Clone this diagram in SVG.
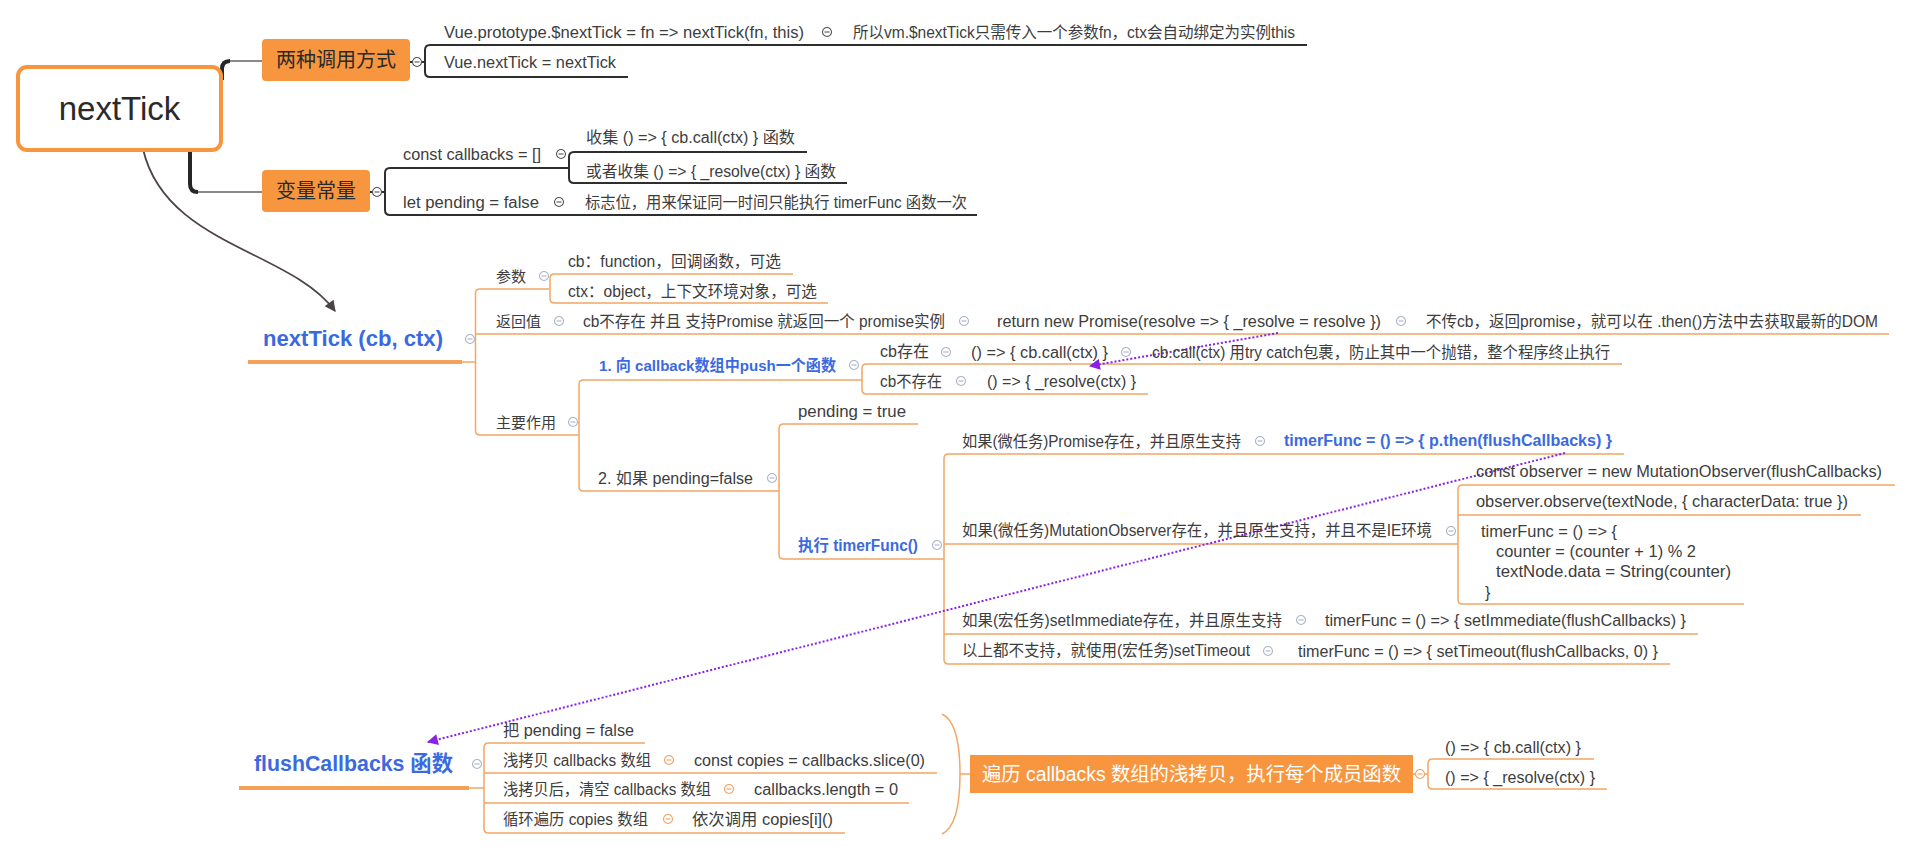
<svg xmlns="http://www.w3.org/2000/svg" width="1912" height="851" viewBox="0 0 1912 851">
<style>
.t{font-family:"Liberation Sans","Noto Sans CJK SC",sans-serif;font-size:16px;fill:#3d3d3d}
.b{font-weight:bold;fill:#3b6ae0}
.w{fill:#ffffff}
.ln{fill:none;stroke:#2e2e2e;stroke-width:2}
.lo{fill:none;stroke:#F2A766;stroke-width:1.5}
.lt{fill:none;stroke:#F4A25A;stroke-width:4}
.box{fill:#F7963F}
.cd{fill:#fff;stroke:#555;stroke-width:1.1}
.cb{fill:#fff;stroke:#AAB4C8;stroke-width:1.1}
.co{fill:#fff;stroke:#F0A060;stroke-width:1.1}
.md{stroke:#555;stroke-width:1.1}
.mb{stroke:#AAB4C8;stroke-width:1.1}
.mo{stroke:#F0A060;stroke-width:1.1}
.pu{fill:none;stroke:#8A22E6;stroke-width:2;stroke-dasharray:2 2}
</style>
<defs>
<marker id="apu" viewBox="0 0 10 10" refX="9" refY="5" markerWidth="13" markerHeight="11" orient="auto" markerUnits="userSpaceOnUse">
<path d="M0,0 L10,5 L0,10 z" fill="#8A22E6"/>
</marker>
<marker id="ad" viewBox="0 0 10 10" refX="9" refY="5" markerWidth="13" markerHeight="11" orient="auto" markerUnits="userSpaceOnUse">
<path d="M0,0 L10,5 L0,10 z" fill="#4d4346"/>
</marker>
<g id="cdm"><circle class="cd" r="4.5"/><path class="md" d="M-2.5,0 H2.5"/></g>
<g id="cbm"><circle class="cb" r="4.5"/><path class="mb" d="M-2.5,0 H2.5"/></g>
<g id="com"><circle class="co" r="4.5"/><path class="mo" d="M-2.5,0 H2.5"/></g>
</defs>
<rect width="1912" height="851" fill="#ffffff"/>

<g id="connectors">
<path d="M222,80 V69 Q222,61 230,61" fill="none" stroke="#262626" stroke-width="4"/>
<path d="M230,61 H262" fill="none" stroke="#8a8a8a" stroke-width="2"/>
<path d="M190,140 V184 Q190,192 198,192" fill="none" stroke="#262626" stroke-width="4"/>
<path d="M198,192 H262" fill="none" stroke="#8a8a8a" stroke-width="2"/>
<path class="ln" d="M410,62 H425 M1307,45 H430 Q425,45 425,50 V72 Q425,77 430,77 H628"/>
<path class="ln" d="M370,192 H385 M569,168 H390 Q385,168 385,173 V210 Q385,215 390,215 H977"/>
<path class="ln" d="M807,152 H574 Q569,152 569,157 V178 Q569,183 574,183 H847"/>
<path class="lt" d="M248,362 H462"/>
<path class="lo" d="M462,362 H475.5"/>
<path class="lo" d="M549,289 H480 Q475.5,289 475.5,293.5 V430.5 Q475.5,435 480,435 H579 M475.5,334 H1889"/>
<path class="lo" d="M793,274 H554.5 Q550,274 550,278.5 V298.5 Q550,303 554.5,303 H828"/>
<path class="lo" d="M862,380 H583.5 Q579,380 579,384.5 V486.5 Q579,491 583.5,491 H779"/>
<path class="lo" d="M1622,364 H866.5 Q862,364 862,368.5 V389.5 Q862,394 866.5,394 H1148"/>
<path class="lo" d="M918,424 H783.5 Q779,424 779,428.5 V554.5 Q779,559 783.5,559 H944"/>
<path class="lo" d="M1624,454 H948.5 Q944,454 944,458.5 V659.5 Q944,664 948.5,664 H1670 M944,544 H1458 M944,634 H1698"/>
<path class="lo" d="M1895,485 H1462.5 Q1458,485 1458,489.5 V599.5 Q1458,604 1462.5,604 H1744 M1458,515 H1861"/>
<path class="lt" d="M239,788 H469"/>
<path class="lo" d="M469,788 H484"/>
<path class="lo" d="M645,743 H488.5 Q484,743 484,747.5 V828.5 Q484,833 488.5,833 H845 M484,773 H937 M484,803 H909"/>
<path class="lo" d="M942,714 C959,722 960,758 960,774 C960,790 959,826 942,834 M960,774 H970"/>
<path class="lo" d="M1413,774 H1428 M1594,759 H1432.5 Q1428,759 1428,763.5 V784.5 Q1428,789 1432.5,789 H1607"/>
<path d="M143,149 C165,245 290,250 335,311" fill="none" stroke="#4d4346" stroke-width="1.8" marker-end="url(#ad)"/>
<path class="pu" d="M1278,333 L1090,366" marker-end="url(#apu)"/>
<path class="pu" d="M1565,453 L428,742" marker-end="url(#apu)"/>
</g>

<g id="node-root">
<rect x="18" y="67" width="203" height="83" rx="9" fill="#ffffff" stroke="#F7963F" stroke-width="4"/>
<text x="119.5" y="120" text-anchor="middle" class="t" style="font-size:33px;fill:#2a2a2a">nextTick</text>
</g>

<g id="node-call">
<rect class="box" x="262" y="39" width="148" height="42" rx="4"/>
<text x="336" y="67" text-anchor="middle" class="t" style="font-size:20px;fill:#2a2a2a">两种调用方式</text>
<use href="#cdm" x="417" y="62"/>
</g>
<g id="node-proto"><text class="t" x="444" y="38" textLength="360" lengthAdjust="spacingAndGlyphs">Vue.prototype.$nextTick = fn =&gt; nextTick(fn, this)</text><use href="#cdm" x="827" y="32"/></g>
<g id="node-proto-note"><text class="t" x="853" y="38" textLength="442" lengthAdjust="spacingAndGlyphs">所以vm.$nextTick只需传入一个参数fn，ctx会自动绑定为实例this</text></g>
<g id="node-vuenext"><text class="t" x="444" y="68" textLength="172" lengthAdjust="spacingAndGlyphs">Vue.nextTick = nextTick</text></g>

<g id="node-vars">
<rect class="box" x="262" y="170" width="108" height="42" rx="4"/>
<text x="316" y="198" text-anchor="middle" class="t" style="font-size:20px;fill:#2a2a2a">变量常量</text>
<use href="#cdm" x="377" y="192"/>
</g>
<g id="node-callbacks"><text class="t" x="403" y="160" textLength="138" lengthAdjust="spacingAndGlyphs">const callbacks = []</text><use href="#cdm" x="561" y="154"/></g>
<g id="node-collect1"><text class="t" x="586" y="143" textLength="209" lengthAdjust="spacingAndGlyphs">收集  () =&gt; { cb.call(ctx) } 函数</text></g>
<g id="node-collect2"><text class="t" x="586" y="177" textLength="250" lengthAdjust="spacingAndGlyphs">或者收集 () =&gt; { _resolve(ctx) } 函数</text></g>
<g id="node-pending"><text class="t" x="403" y="208" textLength="136" lengthAdjust="spacingAndGlyphs">let pending = false</text><use href="#cdm" x="559" y="202"/></g>
<g id="node-pending-note"><text class="t" x="585" y="208" textLength="382" lengthAdjust="spacingAndGlyphs">标志位，用来保证同一时间只能执行 timerFunc 函数一次</text></g>

<g id="node-nexttick">
<text class="t b" x="263" y="346" style="font-size:22px" textLength="180" lengthAdjust="spacingAndGlyphs">nextTick (cb, ctx)</text>
<use href="#cbm" x="470" y="339"/>
</g>
<g id="node-params"><text class="t" x="496" y="282" style="font-size:15px">参数</text><use href="#cbm" x="544" y="276"/></g>
<g id="node-p-cb"><text class="t" x="568" y="267" textLength="213" lengthAdjust="spacingAndGlyphs">cb：function，回调函数，可选</text></g>
<g id="node-p-ctx"><text class="t" x="568" y="297" textLength="249" lengthAdjust="spacingAndGlyphs">ctx：object，上下文环境对象，可选</text></g>
<g id="node-ret"><text class="t" x="496" y="327" style="font-size:15px">返回值</text><use href="#cbm" x="559" y="321"/></g>
<g id="node-ret1"><text class="t" x="583" y="327" textLength="362" lengthAdjust="spacingAndGlyphs">cb不存在 并且 支持Promise 就返回一个 promise实例</text><use href="#cbm" x="964" y="321"/></g>
<g id="node-ret2"><text class="t" x="997" y="327" textLength="384" lengthAdjust="spacingAndGlyphs">return new Promise(resolve =&gt; { _resolve = resolve })</text><use href="#cbm" x="1401" y="321"/></g>
<g id="node-ret3"><text class="t" x="1426" y="327" textLength="452" lengthAdjust="spacingAndGlyphs">不传cb，返回promise，就可以在 .then()方法中去获取最新的DOM</text></g>
<g id="node-main"><text class="t" x="496" y="428" style="font-size:15px">主要作用</text><use href="#cbm" x="573" y="422"/></g>
<g id="node-push"><text class="t b" x="599" y="371" style="font-size:15.5px" textLength="237" lengthAdjust="spacingAndGlyphs">1. 向 callback数组中push一个函数</text><use href="#cbm" x="854" y="365"/></g>
<g id="node-cbexist"><text class="t" x="880" y="357" textLength="49" lengthAdjust="spacingAndGlyphs">cb存在</text><use href="#cbm" x="946" y="352"/></g>
<g id="node-cbcall"><text class="t" x="971" y="358" textLength="137" lengthAdjust="spacingAndGlyphs">() =&gt; { cb.call(ctx) }</text><use href="#cbm" x="1126" y="352"/></g>
<g id="node-trycatch"><text class="t" x="1152" y="358" textLength="458" lengthAdjust="spacingAndGlyphs">cb.call(ctx) 用try catch包裹，防止其中一个抛错，整个程序终止执行</text></g>
<g id="node-cbnone"><text class="t" x="880" y="387" textLength="62" lengthAdjust="spacingAndGlyphs">cb不存在</text><use href="#cbm" x="961" y="381"/></g>
<g id="node-resolve"><text class="t" x="987" y="387" textLength="149" lengthAdjust="spacingAndGlyphs">() =&gt; { _resolve(ctx) }</text></g>
<g id="node-pendfalse"><text class="t" x="598" y="484" textLength="155" lengthAdjust="spacingAndGlyphs">2. 如果 pending=false</text><use href="#cbm" x="772" y="478"/></g>
<g id="node-pendtrue"><text class="t" x="798" y="417" textLength="108" lengthAdjust="spacingAndGlyphs">pending = true</text></g>
<g id="node-exec"><text class="t b" x="798" y="551" textLength="120" lengthAdjust="spacingAndGlyphs">执行 timerFunc()</text><use href="#cbm" x="937" y="545"/></g>
<g id="node-promise"><text class="t" x="962" y="447" textLength="279" lengthAdjust="spacingAndGlyphs">如果(微任务)Promise存在，并且原生支持</text><use href="#cbm" x="1260" y="441"/></g>
<g id="node-promise-tf"><text class="t b" x="1284" y="446" textLength="328" lengthAdjust="spacingAndGlyphs">timerFunc = () =&gt; {  p.then(flushCallbacks) }</text></g>
<g id="node-mo"><text class="t" x="962" y="536" textLength="470" lengthAdjust="spacingAndGlyphs">如果(微任务)MutationObserver存在，并且原生支持，并且不是IE环境</text><use href="#cbm" x="1451" y="531"/></g>
<g id="node-mo1"><text class="t" x="1476" y="477" textLength="406" lengthAdjust="spacingAndGlyphs">const observer = new MutationObserver(flushCallbacks)</text></g>
<g id="node-mo2"><text class="t" x="1476" y="507" textLength="372" lengthAdjust="spacingAndGlyphs">observer.observe(textNode, { characterData: true })</text></g>
<g id="node-mo3">
<text class="t" x="1481" y="537" textLength="136" lengthAdjust="spacingAndGlyphs">timerFunc = () =&gt; {</text>
<text class="t" x="1496" y="557" textLength="200" lengthAdjust="spacingAndGlyphs">counter = (counter + 1) % 2</text>
<text class="t" x="1496" y="577" textLength="235" lengthAdjust="spacingAndGlyphs">textNode.data = String(counter)</text>
<text class="t" x="1485" y="598">}</text>
</g>
<g id="node-si"><text class="t" x="962" y="626" textLength="320" lengthAdjust="spacingAndGlyphs">如果(宏任务)setImmediate存在，并且原生支持</text><use href="#cbm" x="1301" y="620"/></g>
<g id="node-si-tf"><text class="t" x="1325" y="626" textLength="361" lengthAdjust="spacingAndGlyphs">timerFunc = () =&gt; { setImmediate(flushCallbacks) }</text></g>
<g id="node-st"><text class="t" x="962" y="656" textLength="288" lengthAdjust="spacingAndGlyphs">以上都不支持，就使用(宏任务)setTimeout</text><use href="#cbm" x="1268" y="651"/></g>
<g id="node-st-tf"><text class="t" x="1298" y="657" textLength="360" lengthAdjust="spacingAndGlyphs">timerFunc = () =&gt; { setTimeout(flushCallbacks, 0) }</text></g>

<g id="node-flush">
<text class="t b" x="254" y="771" style="font-size:21.5px" textLength="199" lengthAdjust="spacingAndGlyphs">flushCallbacks 函数</text>
<use href="#cbm" x="477" y="764"/>
</g>
<g id="node-f1"><text class="t" x="503" y="736" textLength="131" lengthAdjust="spacingAndGlyphs">把 pending = false</text></g>
<g id="node-f2"><text class="t" x="503" y="766" textLength="148" lengthAdjust="spacingAndGlyphs">浅拷贝 callbacks 数组</text><use href="#com" x="669" y="760"/></g>
<g id="node-f2a"><text class="t" x="694" y="766" textLength="231" lengthAdjust="spacingAndGlyphs">const copies = callbacks.slice(0)</text></g>
<g id="node-f3"><text class="t" x="503" y="795" textLength="208" lengthAdjust="spacingAndGlyphs">浅拷贝后，清空 callbacks 数组</text><use href="#com" x="729" y="789"/></g>
<g id="node-f3a"><text class="t" x="754" y="795" textLength="144" lengthAdjust="spacingAndGlyphs">callbacks.length = 0</text></g>
<g id="node-f4"><text class="t" x="503" y="825" textLength="145" lengthAdjust="spacingAndGlyphs">循环遍历 copies 数组</text><use href="#com" x="668" y="819"/></g>
<g id="node-f4a"><text class="t" x="692" y="825" textLength="141" lengthAdjust="spacingAndGlyphs">依次调用  copies[i]()</text></g>
<g id="node-summary">
<rect class="box" x="970" y="755" width="443" height="38"/>
<text class="t w" x="982" y="781" style="font-size:19.5px" textLength="419" lengthAdjust="spacingAndGlyphs">遍历 callbacks 数组的浅拷贝，执行每个成员函数</text>
<use href="#com" x="1420" y="774"/>
</g>
<g id="node-s1"><text class="t" x="1445" y="753" textLength="136" lengthAdjust="spacingAndGlyphs">() =&gt; { cb.call(ctx) }</text></g>
<g id="node-s2"><text class="t" x="1445" y="783" textLength="150" lengthAdjust="spacingAndGlyphs">() =&gt; { _resolve(ctx) }</text></g>
</svg>
